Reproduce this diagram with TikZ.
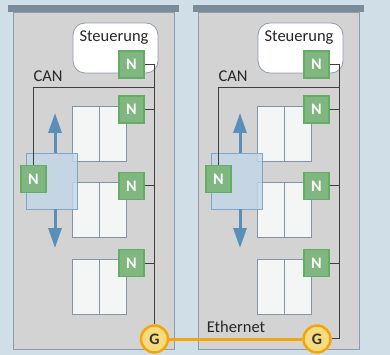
\documentclass[tikz,border=0pt]{standalone}
\usepackage{fontspec}
\setmainfont{Carlito}
\usetikzlibrary{arrows.meta}
\definecolor{bg}{HTML}{D0DEE8}
\definecolor{cabfill}{HTML}{D3D3D4}
\definecolor{cabline}{HTML}{8C9CAC}
\definecolor{barcol}{HTML}{7A8B9A}
\definecolor{doorfill}{HTML}{F4F6F6}
\definecolor{doorline}{HTML}{8494A6}
\definecolor{nfill}{HTML}{80B780}
\definecolor{nline}{HTML}{62AE65}
\definecolor{boxfill}{HTML}{C3D6E8}
\definecolor{boxline}{HTML}{7FA6C8}
\definecolor{arrcol}{HTML}{5A8FBA}
\definecolor{gfill}{HTML}{F6DC7E}
\definecolor{gline}{HTML}{F5A50A}
\definecolor{wirecol}{HTML}{3E3E3E}
\tikzset{
  cab/.style={draw=cabline, fill=cabfill, line width=0.8pt},
  topbar/.style={fill=barcol},
  door/.style={draw=doorline, fill=doorfill, line width=0.8pt},
  nbox/.style={draw=nline, fill=nfill, line width=1.2pt, minimum width=25pt, minimum height=27pt, inner sep=0pt, text=white, font=\fontsize{16}{16}\selectfont\bfseries},
  steu/.style={draw=cabline, fill=white, rounded corners=12pt, line width=0.8pt, minimum width=85pt, minimum height=50pt, inner sep=0pt},
  lbl/.style={font=\fontsize{16.5}{17}\selectfont, text=black!85, inner sep=0pt},
  blbox/.style={draw=boxline, fill=boxfill, fill opacity=0.8, line width=0.8pt, minimum width=51pt, minimum height=56pt, inner sep=0pt},
  bluearr/.style={draw=arrcol, line width=3pt, -{Triangle[width=13pt,length=20pt]}},
  gnode/.style={circle, draw=gline, fill=gfill, line width=2.5pt, minimum size=27pt, inner sep=0pt, text=black!80, font=\fontsize{16}{16}\selectfont\bfseries},
  wire/.style={draw=wirecol, line width=1pt},
  eth/.style={draw=gline, line width=3pt}
}
\begin{document}
\begin{tikzpicture}[x=1pt,y=-1pt]
\fill[bg] (0,0) rectangle (390,355);
\useasboundingbox (0,0) rectangle (390,355);
\foreach \dx/\s in {0/L,185/R}{
  \begin{scope}[xshift=\dx pt]
    \draw[cab] (13,12) rectangle (174,349);
    \fill[topbar] (8,5) rectangle (179,12);
    % control box
    \node[steu] (st\s) at (115.5,48) {};
    \node[lbl] (stt\s) at (114,38) {Steuerung};
    \node[lbl] (can\s) at (48,76) {CAN};
    % doors
    \foreach \y/\k in {106/a,182/b,259/c}{
      \draw[door] (72,\y) rectangle (99,\y+55);
      \draw[door] (99,\y) rectangle (126,\y+55);
    }
    % blue box with arrows
    \node[blbox] (bx\s) at (51.5,181) {};
    \coordinate (up\s) at (55,113);
    \coordinate (dn\s) at (55,248);
    \draw[bluearr] (bx\s.north -| up\s) -- (up\s);
    \draw[bluearr] (bx\s.south -| dn\s) -- (dn\s);
    % N nodes
    \node[nbox] (na\s) at (131.5,64.5) {N};
    \node[nbox] (nb\s) at (131.5,109.5) {N};
    \node[nbox] (nc\s) at (131.5,186) {N};
    \node[nbox] (nd\s) at (131.5,263) {N};
    \node[nbox] (nl\s) at (33.5,179) {N};
    % bus
    \coordinate (bt\s) at (154.5,64.5);
    \coordinate (bc\s) at (154.5,88);
    \draw[wire] (na\s.east) -- (bt\s);
    \draw[wire] (bc\s) -| (nl\s.north);
    \draw[wire] (nb\s.east) -- (nb\s.east -| bt\s);
    \draw[wire] (nc\s.east) -- (nc\s.east -| bt\s);
    \draw[wire] (nd\s.east) -- (nd\s.east -| bt\s);
  \end{scope}
}
\node[gnode] (gL) at (154.5,339) {G};
\node[gnode] (gR) at (317,339) {G};
\draw[wire] (btL) -- (gL.north);
\coordinate (bbR) at (339.5,338);
\draw[wire] (btR) -- (bbR) -- (gR.east |- bbR);
\draw[eth] (gL.east) -- (gR.west);
\node[lbl] (ethl) at (236,327) {Ethernet};
\end{tikzpicture}
\end{document}
